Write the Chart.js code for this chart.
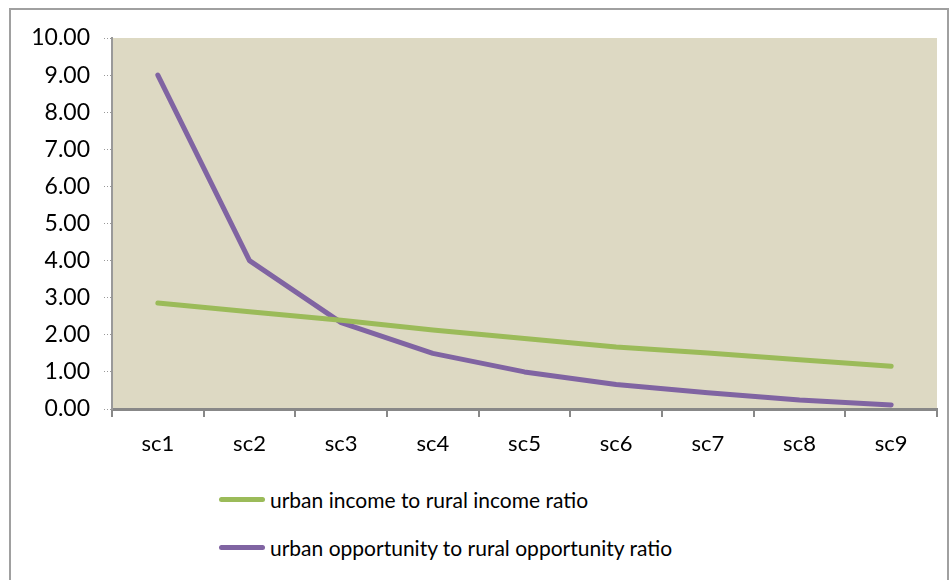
<!DOCTYPE html>
<html>
<head>
<meta charset="utf-8">
<script src="https://cdn.jsdelivr.net/npm/chart.js@4.4.0/dist/chart.umd.min.js"></script>
<style>
  html, body { margin: 0; padding: 0; background: #fff; }
  body { width: 952px; height: 580px; position: relative; overflow: hidden; font-family: Lato, sans-serif; }
  #frame { position: absolute; left: 9px; top: 8px; width: 940px; height: 600px; border: 2px solid #a0a0a0; box-sizing: border-box; }
  #wrap { position: absolute; left: 10px; top: 9px; width: 940px; height: 470px; }
  .leg { position: absolute; left: 219px; font-size: 21px; color: #000; display: flex; align-items: center; white-space: nowrap; }
  .leg span.ln { display: inline-block; width: 46px; height: 5px; border-radius: 3px; margin-right: 5px; }
</style>
</head>
<body>
<div id="frame"></div>
<div id="wrap"><canvas id="c" width="940" height="470"></canvas></div>
<div class="leg" style="top:487px"><span class="ln" style="background:#9BBB59"></span>urban income to rural income ratio</div>
<div class="leg" style="top:535px"><span class="ln" style="background:#8064A2"></span>urban opportunity to rural opportunity ratio</div>
<script>
// categories and series
const scenarios = ['sc1', 'sc2', 'sc3', 'sc4', 'sc5', 'sc6', 'sc7', 'sc8', 'sc9'];
const incomeRatio = [2.86, 2.62, 2.39, 2.13, 1.90, 1.67, 1.51, 1.33, 1.15];
const opportunityRatio = [9.00, 4.00, 2.33, 1.50, 1.00, 0.66, 0.44, 0.24, 0.11];
const yMin = 0, yMax = 10, yStep = 1;

const lineStyle = { pointRadius: 0, borderWidth: 5, tension: 0, borderCapStyle: 'round', borderJoinStyle: 'round', fill: false };

// paint the plot-area background
const plotBg = {
    id: 'plotBg',
    beforeDraw(chart) {
        const a = chart.chartArea, ctx = chart.ctx;
        ctx.save();
        ctx.fillStyle = '#DDD9C3';
        ctx.fillRect(a.left, a.top, a.right - a.left, a.bottom - a.top);
        ctx.restore();
    }
};

new Chart(document.getElementById('c'), {
    type: 'line',
    data: {
        labels: scenarios,
        datasets: [
            Object.assign({ label: 'urban income to rural income ratio', data: incomeRatio, borderColor: '#9BBB59' }, lineStyle),
            Object.assign({ label: 'urban opportunity to rural opportunity ratio', data: opportunityRatio, borderColor: '#8064A2' }, lineStyle)
        ]
    },
    options: {
        responsive: false,
        animation: false,
        layout: { padding: { left: 0, top: 29, right: 13, bottom: 0 } },
        plugins: { legend: { display: false }, tooltip: { enabled: false } },
        scales: {
            x: {
                offset: true,
                grid: { offset: true, drawOnChartArea: false, tickLength: 8, color: '#888', lineWidth: 2 },
                border: { color: '#888', width: 3 },
                ticks: { color: '#000', font: { family: 'Lato', size: 22 }, padding: 14, maxRotation: 0 },
                afterFit(s) { s.height = 70; }
            },
            y: {
                min: yMin, max: yMax,
                grid: { drawOnChartArea: false, tickLength: 8, color: '#999', tickBorderDash: [1, 2] },
                border: { color: '#999', dash: [1, 2], width: 2 },
                ticks: { stepSize: yStep, color: '#000', font: { family: 'Lato', size: 23 }, padding: 14,
                         callback: v => Number(v).toFixed(2) },
                afterFit(s) { s.width = 102; }
            }
        }
    },
    plugins: [plotBg]
});
</script>
</body>
</html>
